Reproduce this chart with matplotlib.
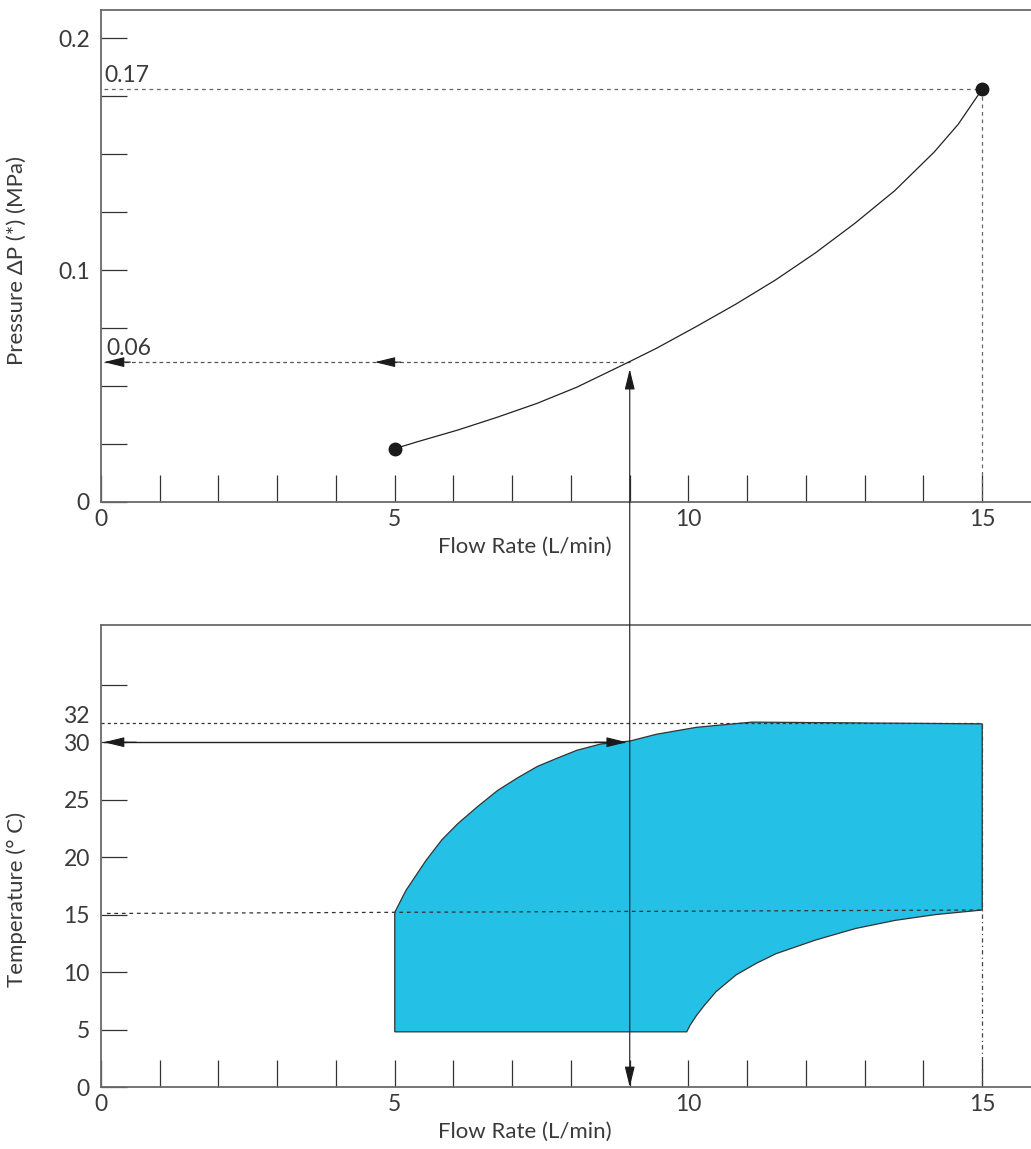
import numpy as np
import matplotlib
matplotlib.use("Agg")
import matplotlib.pyplot as plt
from matplotlib.patches import ConnectionPatch
from matplotlib.ticker import FixedLocator, FuncFormatter

plt.rcParams["font.family"] = ["Lato", "DejaVu Sans"]

# --- valores ---
# curva de presion (caudal L/min -> MPa)
flow_p = [5, 5.39, 6.07, 6.74, 7.42, 8.10, 8.98, 9.45, 10.13, 10.80, 11.48, 12.15,
          12.83, 13.51, 14.18, 14.59, 15]
press = [0.023, 0.026, 0.031, 0.0365, 0.0425, 0.0495, 0.0603, 0.0662, 0.0756, 0.0852,
         0.0957, 0.1072, 0.1201, 0.1342, 0.1508, 0.1628, 0.178]
p_ref_flow = 9
p_ref_val = 0.0603
p_max_val = 0.178

# zona de operacion (temperatura)
upper_flow = [5, 5.19, 5.53, 5.80, 6.07, 6.41, 6.75, 7.09, 7.43, 7.76, 8.10, 8.51,
              9.0, 9.46, 10.14, 11.08, 15]
upper_temp = [15.2, 17.1, 19.7, 21.5, 22.9, 24.4, 25.8, 26.9, 27.9, 28.6, 29.3, 29.85,
              30.1, 30.7, 31.3, 31.75, 31.6]
lower_flow = [15, 14.2, 13.52, 12.85, 12.17, 11.49, 11.15, 10.81, 10.47, 10.27, 10.14,
              10.03, 9.97]
lower_temp = [15.4, 15.0, 14.5, 13.8, 12.8, 11.6, 10.75, 9.75, 8.3, 7.1, 6.25, 5.4, 4.8]
bottom_temp = 4.8
t_ref = 30
t_max_line = 31.7
t15_line = [15.1, 15.4]

XMAX = 15.83
W, H = 1031, 1149
fig = plt.figure(figsize=(W / 100, H / 100), dpi=100)
ax1 = fig.add_axes([101 / W, (H - 502) / H, 930 / W, 492 / H])
ax2 = fig.add_axes([101 / W, (H - 1087) / H, 930 / W, 462 / H])

SP = "#6a6a6a"
TXT = "#3a3a3a"
FS = 16.5
LFS = 16


def style(ax):
    for s in ("left", "bottom", "top"):
        ax.spines[s].set_color(SP)
        ax.spines[s].set_linewidth(1.3)
    ax.spines["right"].set_visible(False)
    ax.set_xlim(0, XMAX)
    ax.xaxis.set_major_locator(FixedLocator(range(0, 16)))
    ax.xaxis.set_major_formatter(FuncFormatter(lambda v, p: f"{int(v)}" if v % 5 == 0 else ""))
    ax.tick_params(axis="x", direction="in", length=19.5, width=0.9, color="#333333",
                   pad=5, labelsize=FS, labelcolor=TXT)
    ax.tick_params(axis="y", direction="in", length=18.5, width=0.9, color="#333333",
                   pad=8, labelsize=FS, labelcolor=TXT)
    ax.set_xlabel("Flow Rate (L/min)", fontsize=LFS, color=TXT)
    ax.xaxis.set_label_coords(0.456, -0.07 if ax is ax1 else -0.075)


# ---------- grafico superior: presion ----------
style(ax1)
ax1.set_ylim(0, 0.2121)
ax1.yaxis.set_major_locator(FixedLocator([0.025 * i for i in range(9)]))
ax1.yaxis.set_major_formatter(FuncFormatter(
    lambda v, p: {0: "0", 4: "0.1", 8: "0.2"}.get(int(round(v / 0.025)), "")))
ax1.set_ylabel("Pressure \u0394P (*) (MPa)", fontsize=LFS, color=TXT)
ax1.yaxis.set_label_coords(-0.08, 0.49)

ax1.plot(flow_p, press, color="#222222", lw=0.9, zorder=3)
ax1.plot([flow_p[0], flow_p[-1]], [press[0], press[-1]], "o", color="#1a1a1a", ms=9, zorder=4)
ax1.plot([0.05, 15], [p_max_val, p_max_val], color="#666666", lw=0.9, dashes=(3, 3))
ax1.plot([15, 15], [p_max_val, 0], color="#666666", lw=0.9, dashes=(3, 3))
ax1.plot([0.05, p_ref_flow], [p_ref_val, p_ref_val], color="#555555", lw=0.9, dashes=(3, 2.5))
ax1.text(0.05, p_max_val + 0.0015, "0.17", fontsize=FS, color=TXT, va="bottom", ha="left")
ax1.text(0.1, p_ref_val + 0.0015, "0.06", fontsize=FS, color=TXT, va="bottom", ha="left")
arr = dict(arrowstyle="-|>,head_length=0.9,head_width=0.22", color="#1a1a1a", lw=0.8,
           shrinkA=0, shrinkB=0, mutation_scale=14)
ax1.annotate("", xy=(0.05, p_ref_val), xytext=(0.5, p_ref_val), arrowprops=arr)
ax1.annotate("", xy=(4.66, p_ref_val), xytext=(5.1, p_ref_val), arrowprops=arr)

# ---------- grafico inferior: temperatura ----------
style(ax2)
ax2.set_ylim(0, 40.2)
ax2.yaxis.set_major_locator(FixedLocator(range(0, 36, 5)))
ax2.yaxis.set_major_formatter(FuncFormatter(lambda v, p: f"{int(v)}" if v <= 30 else ""))
ax2.set_ylabel("Temperature (\u00b0 C)", fontsize=LFS, color=TXT)
ax2.yaxis.set_label_coords(-0.08, 0.405)
ax2.text(-0.19, 32.2, "32", fontsize=FS, color=TXT, ha="right", va="center",
         clip_on=False)

poly_x = [5] + upper_flow + lower_flow + [5]
poly_y = [bottom_temp] + upper_temp + lower_temp + [bottom_temp]
ax2.fill(poly_x, poly_y, facecolor="#25c0e5", edgecolor="#333333", lw=0.9, zorder=2)

ax2.plot([0, 15], [t_max_line, t_max_line], color="#333333", lw=0.9, dashes=(2.5, 2.5), zorder=3)
ax2.plot([0.1, 15], t15_line, color="#333333", lw=0.9, dashes=(3, 3), zorder=3)
ax2.plot([15, 15], [upper_temp[-1], 0], color="#444444", lw=0.9, dashes=(3.5, 2.5, 1, 2.5), zorder=3)
ax2.plot([0.05, 8.9], [t_ref, t_ref], color="#222222", lw=1.0, zorder=3)
ax2.annotate("", xy=(0.05, t_ref), xytext=(0.6, t_ref), arrowprops=arr, zorder=4)
ax2.annotate("", xy=(8.95, t_ref), xytext=(8.4, t_ref), arrowprops=arr, zorder=4)

# linea vertical que une ambos graficos en Q = 9 L/min
con = ConnectionPatch(xyA=(p_ref_flow, p_ref_val - 0.003), coordsA=ax1.transData,
                      xyB=(p_ref_flow, 0), coordsB=ax2.transData,
                      arrowstyle="<|-|>,head_length=0.9,head_width=0.22",
                      mutation_scale=14, color="#1a1a1a", lw=0.8, shrinkA=0, shrinkB=0)
fig.add_artist(con)

fig.savefig("out.png", dpi=100)
